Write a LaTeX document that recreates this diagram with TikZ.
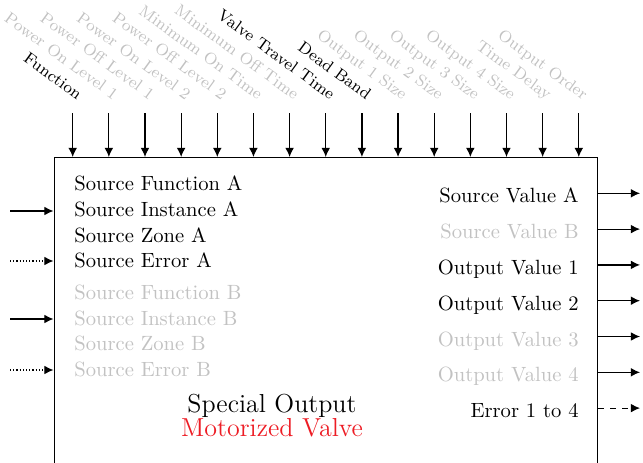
\documentclass[tikz,border=0pt]{standalone}
\usepackage{xcolor}
\usepackage{tikz}
\usetikzlibrary{arrows.meta,positioning,calc}

\definecolor{offgray}{gray}{0.76}
\definecolor{valvered}{RGB}{237,28,36}

\begin{document}
\begin{tikzpicture}[x=0.5pt, y=-0.5pt,
    block/.style={rectangle, draw=black, line width=0.65pt, minimum width=271.75pt, minimum height=170pt, inner sep=0pt},
    sig/.style={-{Latex[length=4.6pt, width=4.4pt]}, line width=0.6pt},
    inlabel/.style={anchor=base west, inner sep=0pt, font=\fontsize{10.3}{12}\selectfont},
    outlabel/.style={anchor=base east, inner sep=0pt, font=\fontsize{10.3}{12}\selectfont},
    param/.style={anchor=base east, inner sep=0pt, rotate=-36, font=\fontsize{8.2}{10}\selectfont},
    unused/.style={text=offgray},
    heading/.style={anchor=base, inner sep=0pt, font=\fontsize{13}{15}\selectfont}
]
\useasboundingbox (0,0) rectangle (643,462);

% main block, runs past the bottom edge
\node[block, anchor=north west] (valve) at (53.5,157) {};

% parameters along the top
\foreach \lbl/\col [count=\i from 0] in {Function/black, Power On Level 1/offgray,
    Power Off Level 1/offgray, Power On Level 2/offgray, Power Off Level 2/offgray,
    Minimum On Time/offgray, Minimum Off Time/offgray, Valve Travel Time/black,
    Dead Band/black, Output 1 Size/offgray, Output 2 Size/offgray, Output 3 Size/offgray,
    Output 4 Size/offgray, Time Delay/offgray, Output Order/offgray} {
  \coordinate (par\i) at ({72.7+36.15*\i},113);
  \draw[sig] (par\i) -- (par\i |- valve.north);
  \node[param, text=\col] (parlbl\i) at ($(par\i)+(4.5,-12.5)$) {\lbl};
}

% source inputs
\node[inlabel] (srcfa) at (74,190.7) {Source Function A};
\node[inlabel] (srcia) at (74,216.4) {Source Instance A};
\node[inlabel] (srcza) at (74,242.1) {Source Zone A};
\node[inlabel] (srcea) at (74,267.8) {Source Error A};
\node[inlabel, unused] (srcfb) at (74,299.3) {Source Function B};
\node[inlabel, unused] (srcib) at (74,325) {Source Instance B};
\node[inlabel, unused] (srczb) at (74,350.7) {Source Zone B};
\node[inlabel, unused] (srceb) at (74,376.4) {Source Error B};

\coordinate (inia) at (10,211);
\coordinate (inea) at (10,261);
\coordinate (inib) at (10,319);
\coordinate (ineb) at (10,370);
\draw[sig] (inia) -- (inia -| valve.west);
\draw[sig, densely dotted] (inea) -- (inea -| valve.west);
\draw[sig] (inib) -- (inib -| valve.west);
\draw[sig, densely dotted] (ineb) -- (ineb -| valve.west);

% outputs
\node[outlabel] (srcva) at (579,202.8) {Source Value A};
\node[outlabel, unused] (srcvb) at (579,238.6) {Source Value B};
\node[outlabel] (outv1) at (579,274.4) {Output Value 1};
\node[outlabel] (outv2) at (579,310.2) {Output Value 2};
\node[outlabel, unused] (outv3) at (579,346) {Output Value 3};
\node[outlabel, unused] (outv4) at (579,381.8) {Output Value 4};
\node[outlabel] (outerr) at (579,417.6) {Error 1 to 4};

\coordinate (osva) at (640,193.3);
\coordinate (osvb) at (640,229.1);
\coordinate (oov1) at (640,264.9);
\coordinate (oov2) at (640,300.7);
\coordinate (oov3) at (640,336.5);
\coordinate (oov4) at (640,372.3);
\coordinate (oerr) at (640,408.1);
\draw[sig] (osva -| valve.east) -- (osva);
\draw[sig] (osvb -| valve.east) -- (osvb);
\draw[sig] (oov1 -| valve.east) -- (oov1);
\draw[sig] (oov2 -| valve.east) -- (oov2);
\draw[sig] (oov3 -| valve.east) -- (oov3);
\draw[sig] (oov4 -| valve.east) -- (oov4);
\draw[sig, dashed] (oerr -| valve.east) -- (oerr);

% block title
\node[heading] (title) at (272,412.3) {Special Output};
\node[heading, text=valvered] (subtitle) at (272,436.7) {Motorized Valve};

\end{tikzpicture}
\end{document}
